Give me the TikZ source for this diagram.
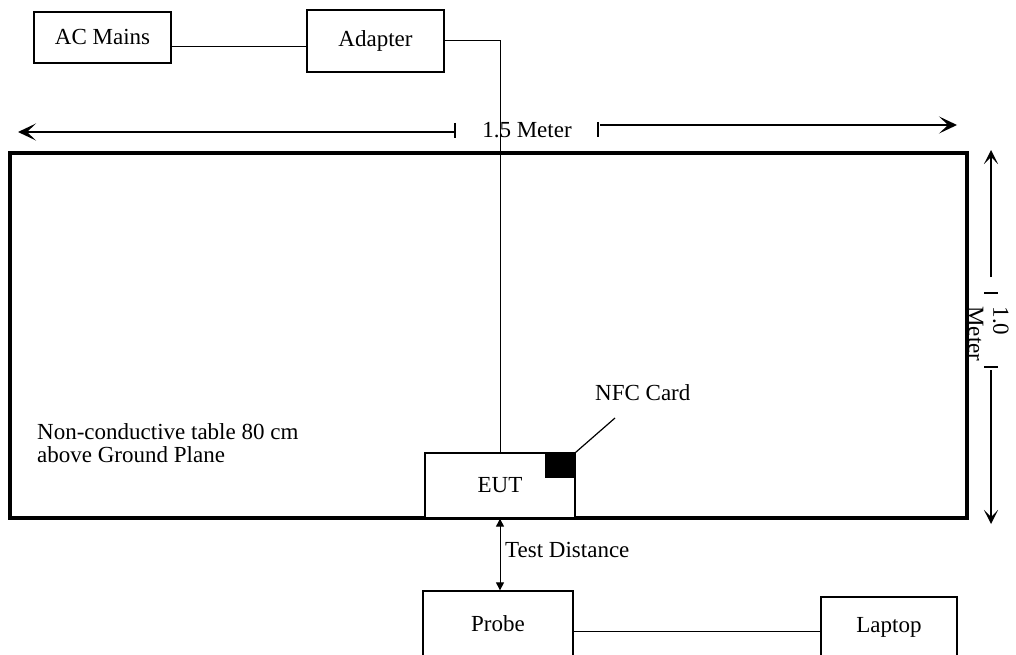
\documentclass[tikz,border=0pt]{standalone}
\usepackage{fontspec}
\setmainfont{Liberation Serif}
\usetikzlibrary{arrows.meta}
\tikzset{
  openhead/.tip={Stealth[length=18pt,width=17pt,inset=9pt]},
  vhead/.tip={Stealth[length=14pt,width=14pt,inset=7pt]},
  smallhead/.tip={Triangle[length=8pt,width=8pt]}}
\begin{document}
\begin{tikzpicture}[x=1pt,y=-1pt,
  box/.style={draw,line width=1.3pt,inner sep=0pt,font=\fontsize{23}{25}\selectfont},
  wire/.style={line width=0.8pt},
  dim/.style={line width=1.7pt},
  tick/.style={line width=1.3pt},
  lbl/.style={inner sep=0pt,font=\fontsize{23}{25}\selectfont}]
\useasboundingbox (0,0) rectangle (1016,655);
\clip (0,0) rectangle (1016,655);

% top equipment
\node[box,minimum width=137pt,minimum height=51pt] (ac) at (102.5,37.5) {AC Mains};
\node[box,minimum width=137pt,minimum height=62pt] (adapter) at (375.5,41) {Adapter};

% table
\node[draw,line width=3.3pt,minimum width=957pt,minimum height=365pt,inner sep=0pt] (table) at (488.5,335.5) {};
\node[lbl,anchor=north west,align=left,font=\fontsize{23}{23}\selectfont] (tbltxt) at (37,423) {Non-conductive table 80 cm\\above Ground Plane};

% EUT and NFC card
\node[box,fill=white,minimum width=150pt,minimum height=65pt] (eut) at (500,485.5) {EUT};
\node[fill=black,minimum width=30pt,minimum height=25pt,inner sep=0pt,anchor=north east] (nfc) at (eut.north east) {};
\coordinate (nfctip) at (615,418);
\node[lbl,anchor=west] (nfclbl) at (595,393) {NFC Card};
\draw[wire,line width=1.2pt] (nfc.north east) -- (nfctip);

% connections at the top
\draw[wire] ([yshift=-8.5pt]ac.east) -- ([yshift=-5pt]adapter.west);
\draw[wire] ([yshift=1pt]adapter.east) -| (eut.north);

% 1.5 Meter dimension
\coordinate (hlt) at (18,132);
\coordinate (hle) at (455,132);
\coordinate (hrs) at (600,125);
\coordinate (hrt) at (957,125);
\draw[dim,-{openhead}] (hle) -- (hlt);
\draw[tick] (455,123) -- (455,138);
\node[lbl] (dimh) at (527,130) {1.5 Meter};
\draw[tick] (598,122) -- (598,137);
\draw[dim,-{openhead}] (hrs) -- (hrt);

% 1.0 Meter dimension
\coordinate (vtt) at (991,150);
\coordinate (vte) at (991,277);
\coordinate (vbs) at (991,370);
\coordinate (vbt) at (991,524);
\draw[dim,-{vhead}] (vte) -- (vtt);
\draw[tick] (984,293) -- (998,293);
\node[lbl,rotate=-90,align=left,font=\fontsize{23}{25}\selectfont] (dimv) at (988.5,334) {1.0\\Meter};
\draw[tick] (984,367) -- (998,367);
\draw[dim,-{vhead}] (vbs) -- (vbt);

% probe and laptop
\node[box,minimum width=150pt,minimum height=66pt] (probe) at (498,624) {Probe};
\node[box,minimum width=136pt,minimum height=60pt] (laptop) at (889,627) {Laptop};
\draw[wire] ([yshift=-7pt]probe.east) -- ([yshift=-4pt]laptop.west);

% test distance
\draw[line width=1pt,{smallhead}-{smallhead}] (eut.south) -- (eut.south |- probe.north);
\node[lbl,anchor=west] (tdlbl) at (505,550) {Test Distance};
\end{tikzpicture}
\end{document}
